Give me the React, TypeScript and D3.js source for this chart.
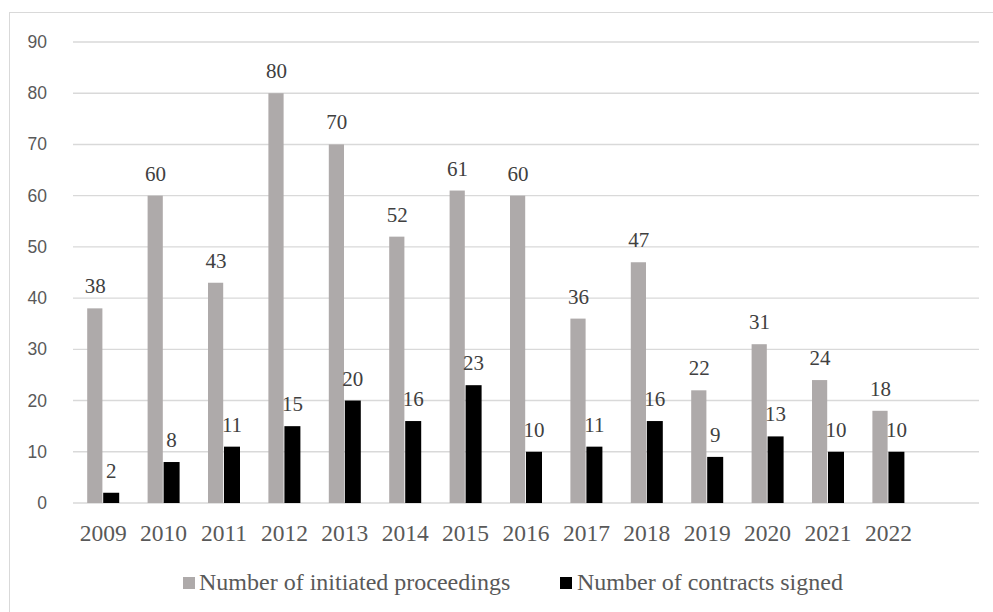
import React from "react";
import * as d3 from "d3";

const years = ["2009","2010","2011","2012","2013","2014","2015","2016","2017","2018","2019","2020","2021","2022"];
const initiated = [38,60,43,80,70,52,61,60,36,47,22,31,24,18];
const contracts = [2,8,11,15,20,16,23,10,11,16,9,13,10,10];
const yTicks = [0,10,20,30,40,50,60,70,80,90];
const seriesNames = ["Number of initiated proceedings","Number of contracts signed"];
const seriesColors = ["#AEAAAA","#000000"];

const W = 993, H = 612;
const plotL = 73, plotR = 979, plotT = 42, plotB = 503;
const barW = 16;

const serifStyle = { fontFamily: "'Liberation Serif', 'Times New Roman', serif" };
const sansStyle = { fontFamily: "'Liberation Sans', Arial, sans-serif" };

export default function App() {
  const x = d3.scaleBand<string>().domain([...years, "__empty"]).range([plotL, plotR]).paddingInner(0).paddingOuter(0);
  const y = d3.scaleLinear().domain([0, 90]).range([plotB, plotT]);
  const series = [initiated, contracts];
  return (
    <svg width={W} height={H} style={{ position: "absolute", left: 0, top: 0, background: "#fff" }}>
      <rect x={9.5} y={12.5} width={1000} height={620} fill="#fff" stroke="#D9D9D9" strokeWidth={1} />
      {yTicks.map(t => (
        <g key={t}>
          <line x1={plotL} x2={plotR} y1={y(t)} y2={y(t)} stroke="#D9D9D9" strokeWidth={1.4} />
          <text x={47} y={y(t) + 6} textAnchor="end" style={sansStyle} fontSize={17.5} fill="#595959">{t}</text>
        </g>
      ))}
      {series.map((vals, si) => (
        <g key={si}>
          {vals.map((v, i) => {
            const c = (x(years[i]) as number) + x.bandwidth() / 2;
            const bx = si === 0 ? c - barW : c;
            return (
              <g key={i}>
                <rect x={bx} y={y(v)} width={barW - (si === 0 ? 0.8 : 0)} height={plotB - y(v)} fill={seriesColors[si]} />
                <text x={bx + barW / 2} y={y(v) - 15} textAnchor="middle" style={serifStyle} fontSize={21} fill="#404040">{v}</text>
              </g>
            );
          })}
        </g>
      ))}
      {years.map(yr => (
        <text key={yr} x={(x(yr) as number) + x.bandwidth() / 2} y={541} textAnchor="middle" style={serifStyle} fontSize={23.5} fill="#595959">{yr}</text>
      ))}
      <g>
        <rect x={183} y={577} width={12} height={12} fill={seriesColors[0]} />
        <text x={199} y={589.5} style={serifStyle} fontSize={24} fill="#595959">{seriesNames[0]}</text>
        <rect x={560} y={577} width={12} height={12} fill={seriesColors[1]} />
        <text x={577} y={589.5} style={serifStyle} fontSize={24} fill="#595959">{seriesNames[1]}</text>
      </g>
    </svg>
  );
}
